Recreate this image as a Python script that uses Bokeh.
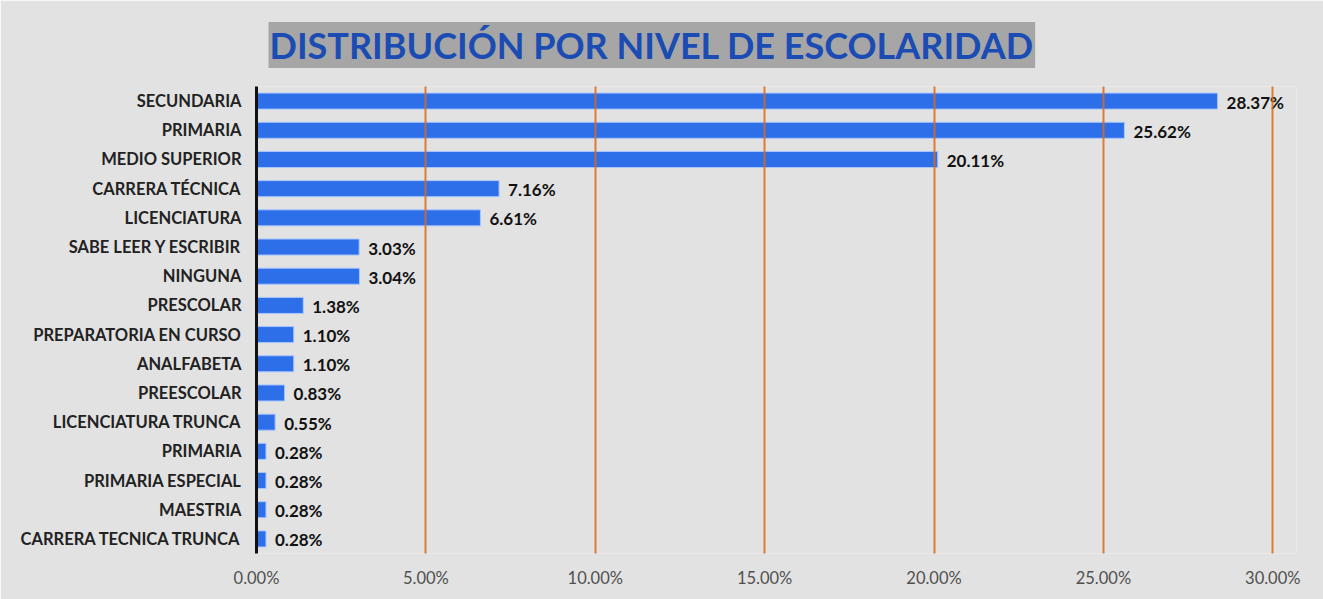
from bokeh.plotting import figure
from bokeh.models import Range1d, FixedTicker, ColumnDataSource, LabelSet, Title
from bokeh.core.properties import value
from bokeh.embed import file_html
from bokeh.resources import INLINE

categories = ["SECUNDARIA", "PRIMARIA", "MEDIO SUPERIOR", "CARRERA TÉCNICA", "LICENCIATURA",
              "SABE LEER Y ESCRIBIR", "NINGUNA", "PRESCOLAR", "PREPARATORIA EN CURSO",
              "ANALFABETA", "PREESCOLAR", "LICENCIATURA TRUNCA", "PRIMARIA ",
              "PRIMARIA ESPECIAL", "MAESTRIA", "CARRERA TECNICA TRUNCA"]
values = [28.37, 25.62, 20.11, 7.16, 6.61, 3.03, 3.04, 1.38, 1.10, 1.10, 0.83, 0.55,
          0.28, 0.28, 0.28, 0.28]
x_ticks = [0, 5, 10, 15, 20, 25, 30]
x_tick_labels = ["0.00%", "5.00%", "10.00%", "15.00%", "20.00%", "25.00%", "30.00%"]
title_text = "DISTRIBUCIÓN POR NIVEL DE ESCOLARIDAD"

BG = "#e2e2e2"
FONT = "Lato"

pos = list(range(len(categories)))
src = ColumnDataSource(dict(y=pos, v=values, lab=[f"{v:.2f}%" for v in values]))

p = figure(width=1323, height=599, output_backend="svg", toolbar_location=None,
           x_range=Range1d(0, 30.7), y_range=Range1d(len(categories) - 0.5, -0.5),
           min_border_left=256, min_border_right=27, min_border_top=86, min_border_bottom=46)
p.background_fill_color = BG
p.border_fill_color = BG
p.outline_line_color = None

t = Title(text=title_text, align="left", offset=12, standoff=37,
          text_font=FONT, text_font_style="bold", text_font_size="36px",
          text_color="#1a4cb4", background_fill_color="#a6a6a6", padding=1)
p.add_layout(t, "above")

p.hbar(y="y", right="v", left=0, height=0.55, source=src,
       fill_color="#2d6ee9", line_color="#a8c6ff", line_width=1)

p.add_layout(LabelSet(x="v", y="y", text="lab", source=src, x_offset=9, y_offset=-1,
                      text_font=value(FONT), text_font_style="bold", text_font_size="17px",
                      text_color="#111111", text_baseline="middle"))

# axes
p.xaxis.ticker = FixedTicker(ticks=x_ticks)
p.xaxis.major_label_overrides = {t: l for t, l in zip(x_ticks, x_tick_labels)}
p.xaxis.axis_line_color = None
p.xaxis.major_tick_line_color = None
p.xaxis.minor_tick_line_color = None
p.xaxis.major_label_text_font = FONT
p.xaxis.major_label_text_font_size = "16.5px"
p.xaxis.major_label_text_color = "#505050"
p.xaxis.major_label_standoff = 8

p.yaxis.ticker = FixedTicker(ticks=pos)
p.yaxis.major_label_overrides = {i: c.strip() for i, c in enumerate(categories)}
p.yaxis.axis_line_color = "#111111"
p.yaxis.axis_line_width = 3
p.yaxis.major_tick_line_color = None
p.yaxis.minor_tick_line_color = None
p.yaxis.major_label_text_font = FONT
p.yaxis.major_label_text_font_style = "bold"
p.yaxis.major_label_text_font_size = "16.5px"
p.yaxis.major_label_text_color = "#222222"
p.yaxis.major_label_standoff = 9

p.ygrid.grid_line_color = None
p.xgrid.ticker = FixedTicker(ticks=x_ticks[1:])
p.xgrid.grid_line_color = "#dc6a18"
p.xgrid.grid_line_width = 2
p.xgrid.grid_line_alpha = 0.85
p.xgrid.level = "overlay"

open("out.html", "w").write(file_html(p, INLINE))
